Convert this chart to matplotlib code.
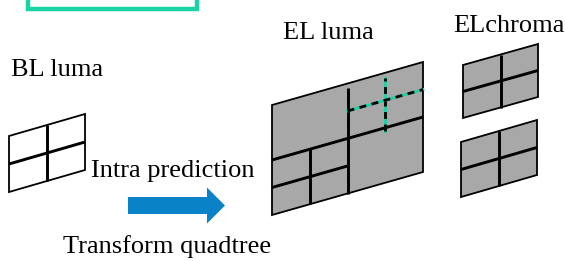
#!/usr/bin/env python3
"""Scalable coding diagram: BL luma -> EL luma / EL chroma quadtrees."""

import matplotlib
matplotlib.use("Agg")
import matplotlib.pyplot as plt
from matplotlib.patches import Polygon, FancyArrow, Rectangle

W, H = 565, 261
FONT = "Liberation Serif"
GREY = "#a8a8a8"
TEAL = "#19d3a6"
BLUE = "#0a82c8"

# panels: (origin = bottom-left corner, u = bottom edge, v = left edge), pixel units
BL_PANEL = ((9, 192), (76, -22), (0, -56))
EL_LUMA_PANEL = ((272, 215), (151, -43), (0, -110))
EL_CHROMA_PANELS = [((463, 118), (75, -21), (0, -53)),
                    ((461, 197), (76, -22), (0, -55))]

# quadtree splits in unit panel coords: (s0, t0, s1, t1)
QUAD_SPLIT = [(0.5, 0.0, 0.5, 1.0), (0.0, 0.5, 1.0, 0.5)]
EL_LUMA_SOLID = [(0.5, 0.0, 0.5, 0.96), (0.0, 0.5, 1.0, 0.5),
                 (0.25, 0.0, 0.25, 0.5), (0.0, 0.25, 0.5, 0.25)]
EL_LUMA_DASHED = [(0.75, 0.47, 0.75, 0.95), (0.5, 0.75, 1.0, 0.75)]

LABELS = [("BL luma", 11, 76), ("EL luma", 283, 39), ("ELchroma", 453, 32),
          ("Intra prediction", 91, 177), ("Transform quadtree", 63, 253)]


def to_px(panel, s, t):
    (x0, y0), (ux, uy), (vx, vy) = panel
    return x0 + s * ux + t * vx, y0 + s * uy + t * vy


def draw_panel(ax, panel, fill, solid, dashed=()):
    corners = [to_px(panel, s, t) for s, t in [(0, 0), (1, 0), (1, 1), (0, 1)]]
    ax.add_patch(Polygon(corners, closed=True, facecolor=fill,
                         edgecolor="black", linewidth=1.3))
    for s0, t0, s1, t1 in solid:
        (xa, ya), (xb, yb) = to_px(panel, s0, t0), to_px(panel, s1, t1)
        ax.plot([xa, xb], [ya, yb], color="black", linewidth=2.1,
                solid_capstyle="butt")
    for s0, t0, s1, t1 in dashed:
        (xa, ya), (xb, yb) = to_px(panel, s0, t0), to_px(panel, s1, t1)
        ax.plot([xa, xb], [ya, yb], color=TEAL, linewidth=2.0)
        ax.plot([xa, xb], [ya, yb], color="black", linewidth=2.0,
                dashes=(2.5, 2.0), dash_capstyle="butt")


fig = plt.figure(figsize=(W / 100, H / 100), dpi=100)
ax = fig.add_axes([0, 0, 1, 1])
ax.set_xlim(0, W)
ax.set_ylim(H, 0)
ax.axis("off")

# teal box clipped at the top edge
ax.add_patch(Rectangle((28, -20), 169, 29, fill=False, edgecolor=TEAL,
                       linewidth=3.2))

draw_panel(ax, BL_PANEL, "white", QUAD_SPLIT)
draw_panel(ax, EL_LUMA_PANEL, GREY, EL_LUMA_SOLID, EL_LUMA_DASHED)
for panel in EL_CHROMA_PANELS:
    draw_panel(ax, panel, GREY, QUAD_SPLIT)

ax.add_patch(FancyArrow(128, 205.5, 97, 0, width=17, head_width=36,
                        head_length=18, length_includes_head=True,
                        facecolor=BLUE, edgecolor="none"))

for text, x, y in LABELS:
    ax.text(x, y, text, family=FONT, fontsize=19, ha="left", va="baseline",
            color="black")

fig.savefig("out.png", dpi=100)
